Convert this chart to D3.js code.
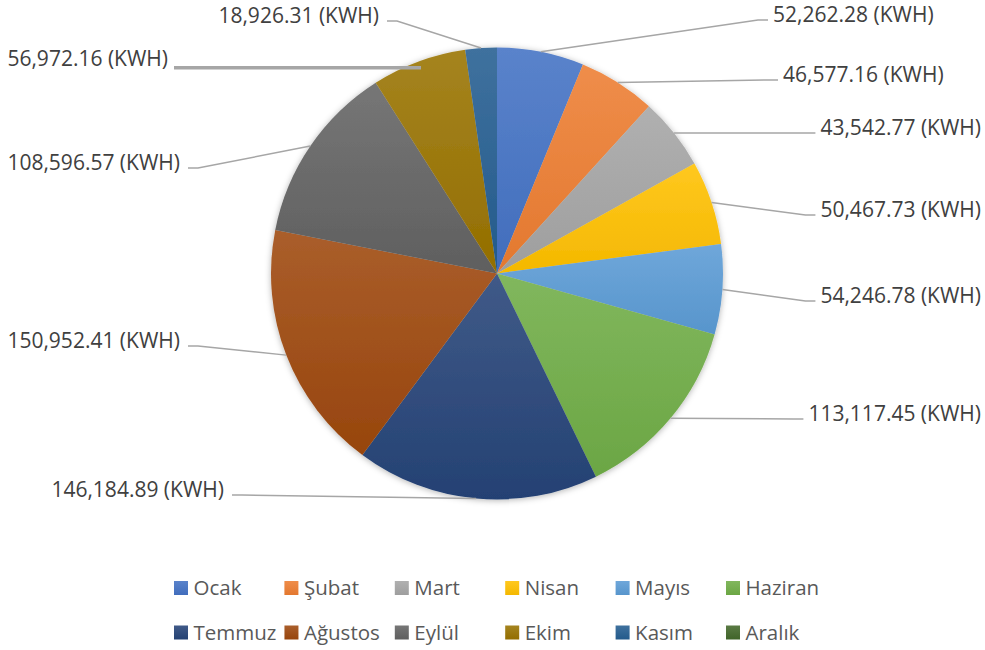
<!DOCTYPE html>
<html>
<head>
<meta charset="utf-8">
<script src="https://cdn.jsdelivr.net/npm/d3@7"></script>
<style>
  body { margin: 0; background: #fff; }
  svg { display: block; font-family: "Open Sans", "Noto Sans", sans-serif; }
  .lbl { font-size: 21px; fill: #404040; }
  .leg { font-size: 20.5px; fill: #595959; }
  .leader { fill: none; stroke: #a6a6a6; stroke-width: 1.5; }
</style>
</head>
<body>
<svg id="chart" width="985" height="650"></svg>
<script>
// monthly consumption, KWH
const months = ["Ocak", "Şubat", "Mart", "Nisan", "Mayıs", "Haziran",
                "Temmuz", "Ağustos", "Eylül", "Ekim", "Kasım", "Aralık"];
const energy = [52262.28, 46577.16, 43542.77, 50467.73, 54246.78, 113117.45,
                146184.89, 150952.41, 108596.57, 56972.16, 18926.31, 0];
const unit = "(KWH)";
const palette = ["#4472C4", "#ED7D31", "#A5A5A5", "#FFC000", "#5B9BD5", "#70AD47",
                 "#264478", "#9E480E", "#636363", "#997300", "#255E91", "#43682B"];

// where excel left the data labels (text edge x, text middle y)
const labelSpots = [
    {x: 773, y: 15, side: "R"}, {x: 783, y: 75, side: "R"},
    {x: 981, y: 128, side: "R", clamp: true}, {x: 981, y: 210, side: "R", clamp: true},
    {x: 981, y: 296, side: "R", clamp: true}, {x: 981, y: 414, side: "R", clamp: true},
    {x: 224, y: 490, side: "L"}, {x: 180, y: 341, side: "L"},
    {x: 180, y: 163, side: "L"}, {x: 168, y: 57, side: "L", flat: true},
    {x: 379, y: 16, side: "L"}, null
];

const svg = d3.select("#chart");
const cx = 497, cy = 273.5, R = 226;

const fmt = d3.format(",.2f");

const rows = months.map((m, i) => ({month: m, value: energy[i], i: i}));
const pie = d3.pie().value(d => d.value).sort(null);
const arcs = pie(rows);
const arc = d3.arc().innerRadius(0).outerRadius(R);

// gradients, lighter at the top like office does
const defs = svg.append("defs");
palette.forEach((c, i) => {
    const g = defs.append("linearGradient")
        .attr("id", "grad" + i)
        .attr("x1", 0).attr("y1", 0).attr("x2", 0).attr("y2", 1);
    g.append("stop").attr("offset", "0%").attr("stop-color", d3.interpolateRgb(c, "#fff")(0.12));
    g.append("stop").attr("offset", "100%").attr("stop-color", d3.color(c).darker(0.12));
});
defs.append("filter").attr("id", "shadow")
    .attr("x", "-10%").attr("y", "-10%").attr("width", "120%").attr("height", "120%")
    .append("feDropShadow")
    .attr("dx", 0).attr("dy", 1).attr("stdDeviation", 3)
    .attr("flood-color", "#000").attr("flood-opacity", 0.3);

const g = svg.append("g").attr("transform", `translate(${cx},${cy})`);

g.append("g").attr("filter", "url(#shadow)")
    .selectAll("path")
    .data(arcs.filter(d => d.value > 0))
    .enter().append("path")
    .attr("d", arc)
    .attr("fill", d => `url(#grad${d.data.i})`);

// data labels + leader lines
const labels = svg.append("g");
const leaders = svg.append("g");

arcs.forEach((d, i) => {
    const spot = labelSpots[i];
    if (!spot || d.value <= 0) return;
    const t = labels.append("text")
        .attr("class", "lbl")
        .attr("x", spot.x)
        .attr("y", spot.y)
        .attr("dy", "0.35em")
        .attr("text-anchor", (spot.side === "L" || spot.clamp) ? "end" : "start")
        .text(fmt(d.value) + " " + unit);
    const bb = t.node().getBBox();

    const mid = (d.startAngle + d.endAngle) / 2;
    if (spot.flat) {
        const r = R * 0.97;
        const px = cx + r * Math.sin(mid), py = cy - r * Math.cos(mid);
        leaders.append("path").attr("class", "leader")
            .style("stroke-width", 3.5)
            .attr("d", `M${px},${py}H${bb.x + bb.width + 6}`);
        t.attr("y", py - 9.7);
        return;
    }
    const px = cx + R * Math.sin(mid), py = cy - R * Math.cos(mid);
    const ly = spot.y + 5;
    let edge, elbow;
    if (spot.side === "R") {
        edge = bb.x - 5;
        elbow = edge - 10;
    } else {
        edge = bb.x + bb.width + 8;
        elbow = edge + 10;
    }
    leaders.append("path").attr("class", "leader")
        .attr("d", `M${px},${py}L${elbow},${ly}H${edge}`);
});

// legend, two rows of six
const legend = svg.append("g");
const perRow = 6, slot = 110.4, startX = 174, rowY = [588, 632.5];
for (let r = 0; r < 2; r++) {
    let x = startX;
    for (let c = 0; c < perRow; c++) {
        const i = r * perRow + c;
        x = Math.max(x, startX + c * slot);
        const item = legend.append("g").attr("transform", `translate(${x},${rowY[r]})`);
        item.append("rect")
            .attr("x", 0).attr("y", -7)
            .attr("width", 14).attr("height", 14)
            .attr("fill", `url(#grad${i})`);
        const tx = item.append("text")
            .attr("class", "leg")
            .attr("x", 19.5).attr("dy", "0.36em")
            .text(months[i]);
        x += 19.5 + tx.node().getComputedTextLength() + 8;
    }
}
</script>
</body>
</html>
